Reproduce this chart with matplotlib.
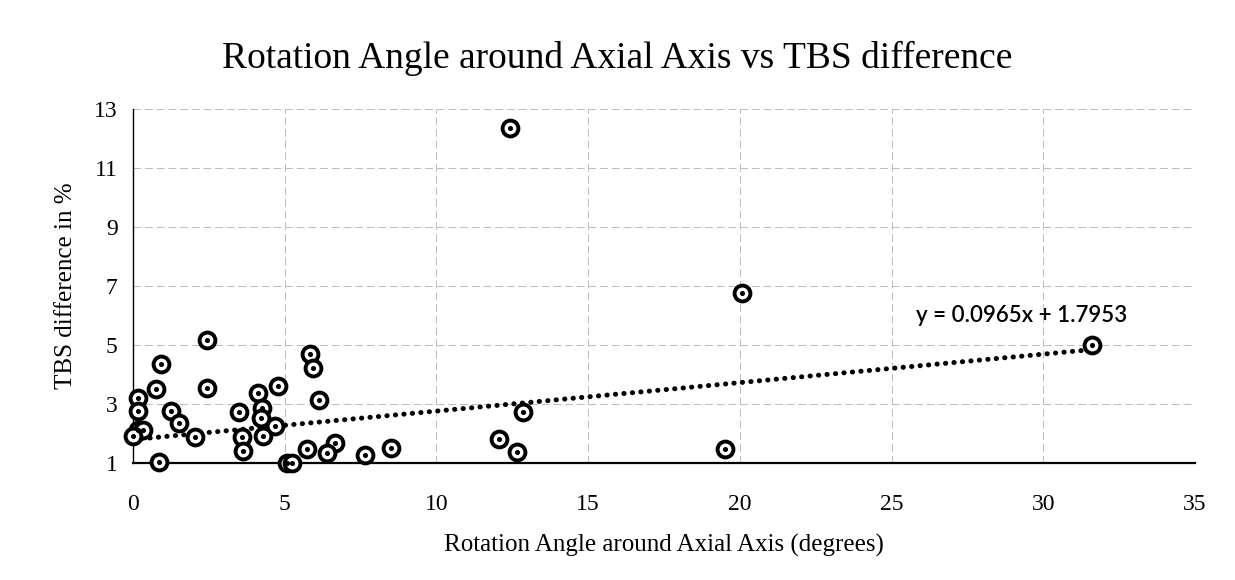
import numpy as np
from matplotlib import pyplot as plt

# Rotation angle (degrees) and TBS difference (%)
rotation_angle = [2.44, 0.92, 5.84, 5.94, 0.76, 2.44, 4.79, 4.13, 0.17, 6.14,
                  0.17, 1.25, 3.50, 4.26, 4.22, 1.52, 4.69, 0.17, 0.33, 0.00,
                  2.05, 3.60, 4.29, 3.63, 5.74, 6.67, 6.40, 7.66, 8.51, 0.86,
                  5.08, 5.25, 12.41, 20.07, 12.84, 12.05, 12.67, 19.50, 31.60]
tbs_difference = [5.17, 4.36, 4.69, 4.22, 3.51, 3.54, 3.61, 3.37, 3.20, 3.14,
                  2.76, 2.76, 2.73, 2.86, 2.53, 2.36, 2.25, 2.12, 2.12, 1.92,
                  1.88, 1.88, 1.92, 1.41, 1.47, 1.68, 1.34, 1.27, 1.51, 1.03,
                  1.00, 1.00, 12.36, 6.76, 2.73, 1.81, 1.37, 1.47, 5.00]

# Linear trendline as printed on the chart
slope = 0.0965
intercept = 1.7953

x_ticks = [0, 5, 10, 15, 20, 25, 30, 35]
y_ticks = [1, 3, 5, 7, 9, 11, 13]

plt.rcParams['font.family'] = ['Liberation Serif', 'DejaVu Serif']

fig = plt.figure(figsize=(12.35, 5.8), dpi=100)
ax = fig.add_axes([0.1077, 0.2017, 0.8599, 0.6104])

# Trendline from 0 to the largest angle
trend_x = np.array([0, max(rotation_angle)])
trend_y = slope * trend_x + intercept
ax.plot(trend_x, trend_y, color='k', linewidth=3.6,
        linestyle=(0, (0.05, 1.65)), dash_capstyle='round', zorder=2)

# Circle markers with a dot in the middle
ax.scatter(rotation_angle, tbs_difference, s=130, facecolors='white',
           edgecolors='k', linewidths=2.8, zorder=3, clip_on=False)
ax.scatter(rotation_angle, tbs_difference, s=7, color='k', zorder=4,
           clip_on=False)

ax.text(25.8, 6.0, f"y = {slope}x + {intercept}", fontsize=16,
        family=['Lato', 'DejaVu Sans'], fontweight='semibold',
        ha='left', va='center')

ax.set_xlim(0, 35)
ax.set_ylim(1, 13)
ax.set_xticks(x_ticks)
ax.set_yticks(y_ticks)
ax.tick_params(length=0, labelsize=17)
ax.tick_params(axis='x', pad=22)
ax.tick_params(axis='y', pad=11)

ax.grid(True, color='#bbbbbb', linewidth=0.7, linestyle=(0, (8, 4)))
ax.set_axisbelow(True)
for side in ['top', 'right']:
    ax.spines[side].set_visible(False)
ax.spines['left'].set_linewidth(1.0)
ax.spines['bottom'].set_linewidth(1.6)

ax.set_xlabel("Rotation Angle around Axial Axis (degrees)", fontsize=18,
              labelpad=14)
ax.set_ylabel("TBS difference in %", fontsize=18, labelpad=12)
fig.suptitle("Rotation Angle around Axial Axis vs TBS difference",
             fontsize=27, x=0.5, y=0.9, va='center')

plt.savefig("out.png")
